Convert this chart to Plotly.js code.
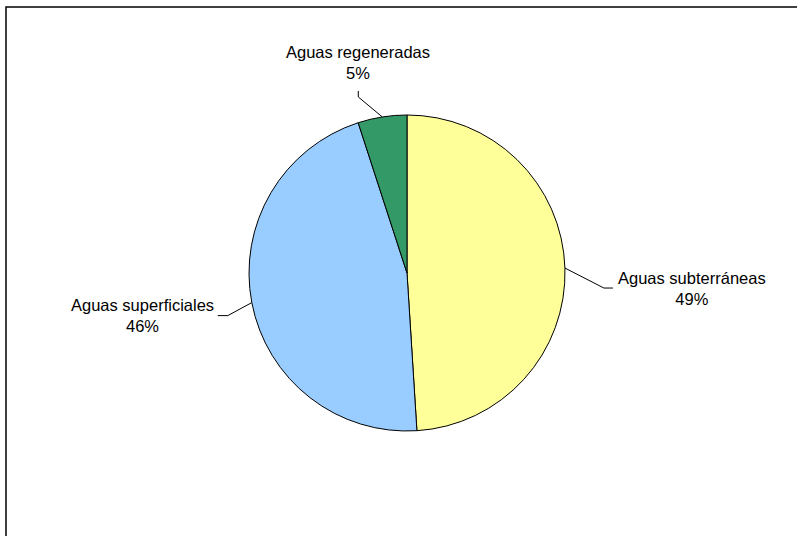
<!DOCTYPE html>
<html>
<head>
<meta charset="utf-8">
<script src="https://cdn.plot.ly/plotly-3.0.1.min.js"></script>
<style>html,body{margin:0;padding:0;background:#fff;}#chart{width:797px;height:536px;}</style>
</head>
<body>
<div id="chart"></div>
<script>
// Data
const labels = ["Aguas subterráneas", "Aguas superficiales", "Aguas regeneradas"];
const values = [49, 46, 5];
const colors = ["#FFFF99", "#99CCFF", "#339966"];

// Layout geometry (pixels)
const W = 797, H = 536;
const cx = 407, cy = 273, R = 158;
// leader-line / label offsets relative to the slice edge point [elbow, end, labelCenter]
const offsets = [
  [[39, 20], [48, 20], [127, 20]],
  [[-24, 13], [-34, 13], [-109, 13]],
  [[-24, -20], [-24, -26], [-24, -54]]
];
const FONT = "Liberation Sans, Arial, sans-serif";
const FS = 16.5;

const px = x => x / W;
const py = y => 1 - y / H;

const total = values.reduce((a, b) => a + b, 0);
let cum = 0;
const shapes = [];
const annotations = [];
values.forEach((v, i) => {
  const mid = (cum + v / 2) / total * 2 * Math.PI;
  cum += v;
  const ex = cx + R * Math.sin(mid), ey = cy - R * Math.cos(mid);
  const o = offsets[i];
  const p1 = [ex + o[0][0], ey + o[0][1]];
  const p2 = [ex + o[1][0], ey + o[1][1]];
  const lc = [ex + o[2][0], ey + o[2][1]];
  shapes.push({
    type: "path", xref: "paper", yref: "paper",
    path: `M ${px(ex)} ${py(ey)} L ${px(p1[0])} ${py(p1[1])} L ${px(p2[0])} ${py(p2[1])}`,
    line: {color: "#000", width: 1}
  });
  const pct = Math.round(v / total * 100) + "%";
  annotations.push({
    xref: "paper", yref: "paper", x: px(lc[0]), y: py(lc[1]),
    xanchor: "center", yanchor: "middle", showarrow: false,
    text: labels[i] + "<br>" + pct, align: "center",
    font: {family: FONT, size: FS, color: "#000"}
  });
});

// frame
shapes.push({
  type: "rect", xref: "paper", yref: "paper",
  x0: px(6), x1: px(W + 5), y0: py(H + 5), y1: py(7),
  line: {color: "#000", width: 1.5}, fillcolor: "rgba(0,0,0,0)"
});

const data = [{
  type: "pie",
  labels: labels, values: values,
  marker: {colors: colors, line: {color: "#000", width: 1}},
  sort: false, direction: "clockwise", rotation: 0,
  textinfo: "none", hoverinfo: "label+percent",
  domain: {x: [px(cx - R), px(cx + R)], y: [py(cy + R), py(cy - R)]}
}];

const layout = {
  width: W, height: H,
  margin: {l: 0, r: 0, t: 0, b: 0},
  paper_bgcolor: "#fff",
  showlegend: false,
  shapes: shapes,
  annotations: annotations
};

Plotly.newPlot("chart", data, layout, {displayModeBar: false, staticPlot: true});
</script>
</body>
</html>
